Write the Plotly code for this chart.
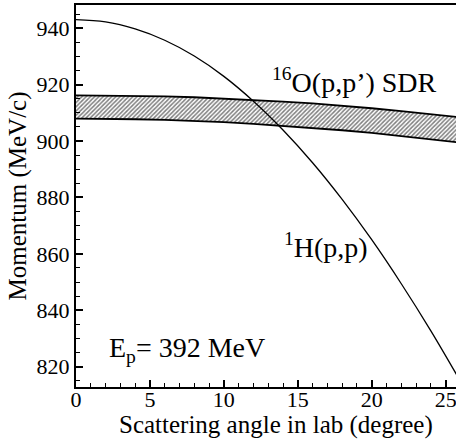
import plotly.graph_objects as go

# Scattering angle in lab (degree)
angle = [0, 2, 4, 6, 8, 10, 12, 14, 16, 18, 20, 22, 24, 26]
# 1H(p,p) elastic momentum (MeV/c)
h_pp = [943.0, 942.2, 939.7, 935.7, 930.1, 922.9, 914.1, 903.9, 892.3, 879.3, 865.0, 849.4, 832.7, 814.8]
# 16O(p,p') SDR band boundaries (MeV/c)
sdr_upper = [916.2, 916.15, 916.0, 915.8, 915.5, 915.05, 914.5, 913.95, 913.3, 912.5, 911.6, 910.6, 909.6, 908.4]
sdr_lower = [907.9, 907.85, 907.7, 907.45, 907.1, 906.65, 906.1, 905.4, 904.7, 903.8, 902.9, 901.8, 900.7, 899.4]

x_ticks = [0, 5, 10, 15, 20, 25]
y_ticks = [820, 840, 860, 880, 900, 920, 940]

FONT = "Liberation Serif"

fig = go.Figure()
fig.add_trace(go.Scatter(x=angle, y=sdr_lower, mode="lines",
                         line=dict(color="black", width=1.8), showlegend=False))
fig.add_trace(go.Scatter(x=angle, y=sdr_upper, mode="lines", fill="tonexty",
                         fillcolor="rgba(0,0,0,0)",
                         fillpattern=dict(shape="/", fgcolor="black", bgcolor="white",
                                          size=3, solidity=0.5),
                         line=dict(color="black", width=1.8), showlegend=False))
fig.add_trace(go.Scatter(x=angle, y=h_pp, mode="lines",
                         line=dict(color="black", width=1.3, shape="spline"), showlegend=False))

fig.add_annotation(x=18.85, y=921.3, text="<sup>16</sup>O(p,p\u2019) SDR", showarrow=False,
                   font=dict(family=FONT, size=28, color="black"), xanchor="center", yanchor="middle")
fig.add_annotation(x=16.9, y=863.0, text="<sup>1</sup>H(p,p)", showarrow=False,
                   font=dict(family=FONT, size=28, color="black"), xanchor="center", yanchor="middle")
fig.add_annotation(x=2.1, y=826.0, text="E<sub>p</sub>= 392 MeV", showarrow=False,
                   font=dict(family=FONT, size=28, color="black"), xanchor="left", yanchor="middle")
# x-axis title
fig.add_annotation(xref="paper", yref="paper", x=0.525, y=0, yshift=-38,
                   text="Scattering angle in lab (degree)", showarrow=False,
                   font=dict(family=FONT, size=25, color="black"), xanchor="center", yanchor="middle")

fig.update_layout(
    width=456, height=441,
    margin=dict(l=76, r=0, t=5, b=54),
    paper_bgcolor="white", plot_bgcolor="white",
    font=dict(family=FONT, color="black", size=22),
)
fig.update_xaxes(range=[0, 25.7], tickvals=x_ticks, ticks="inside", ticklen=7, tickwidth=1.5,
                 tickcolor="black", showline=True, linecolor="black", linewidth=2, mirror=True,
                 showgrid=False, zeroline=False, tickfont=dict(size=22, family=FONT, color="black"),
                 ticklabeloverflow="allow", ticklabelstandoff=-8,
                 minor=dict(dtick=1, ticks="inside", ticklen=4, tickwidth=1.2, tickcolor="black"))
fig.update_yaxes(range=[812.8, 948.2], tickvals=y_ticks, ticks="inside", ticklen=7, tickwidth=1.5,
                 tickcolor="black", showline=True, linecolor="black", linewidth=2, mirror=False,
                 showgrid=False, zeroline=False, tickfont=dict(size=22, family=FONT, color="black"),
                 minor=dict(dtick=5, tick0=820, ticks="inside", ticklen=4, tickwidth=1.2, tickcolor="black"),
                 title=dict(text="Momentum (MeV/c)", font=dict(size=25, family=FONT, color="black"),
                            standoff=3))

fig.write_html("out.html")
